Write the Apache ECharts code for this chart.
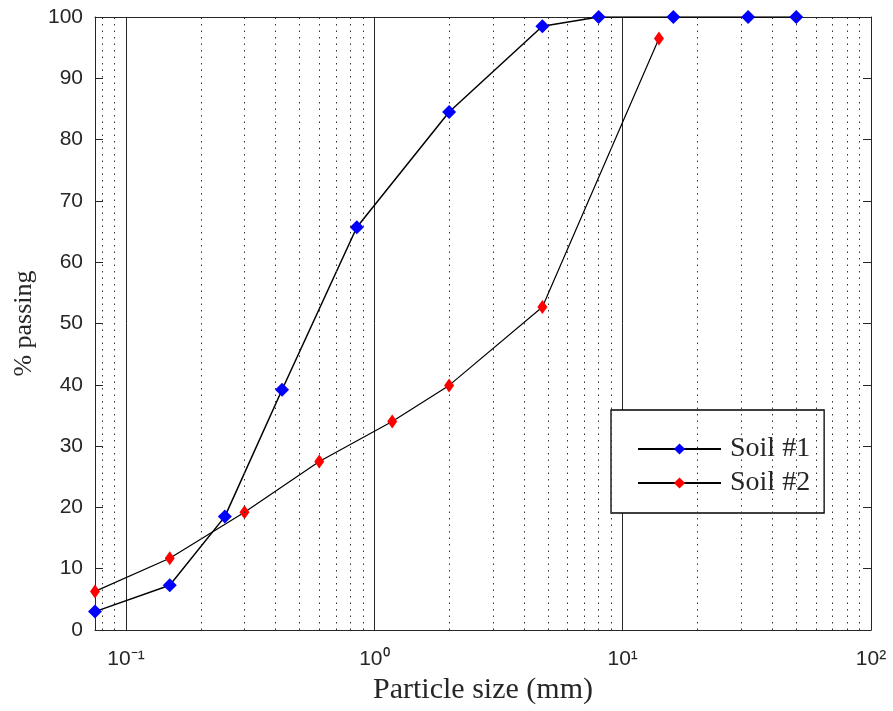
<!DOCTYPE html>
<html>
<head>
<meta charset="utf-8">
<script src="https://cdn.jsdelivr.net/npm/echarts@6/dist/echarts.min.js"></script>
<style>
html,body{margin:0;padding:0;background:#fff;}
#c{width:893px;height:711px;}
</style>
</head>
<body>
<div id="c"></div>
<script>
// ---- data ----
var soil1X = [0.075, 0.15, 0.25, 0.425, 0.85, 2, 4.75, 8, 16, 32, 50];
var soil1Y = [3.0, 7.3, 18.5, 39.2, 65.7, 84.5, 98.5, 100, 100, 100, 100];
var soil2X = [0.075, 0.15, 0.3, 0.6, 1.18, 2, 4.75, 14];
var soil2Y = [6.3, 11.7, 19.2, 27.5, 34.0, 39.9, 52.7, 96.5];
var minorGrid = [0.08, 0.09, 0.2, 0.3, 0.4, 0.5, 0.6, 0.7, 0.8, 0.9,
                 2, 3, 4, 5, 6, 7, 8, 9, 20, 30, 40, 50, 60, 70, 80, 90];
var yTicks = [0, 10, 20, 30, 40, 50, 60, 70, 80, 90, 100];
var xTickLabels = { '-1': '10\u207B\u00B9', '0': '10\u2070', '1': '10\u00B9', '2': '10\u00B2' };
var seriesNames = ['Soil #1', 'Soil #2'];

function pairs(xs, ys) { return xs.map(function (x, i) { return [x, ys[i]]; }); }

var txt = '#262626';
var chart = echarts.init(document.getElementById('c'));
chart.setOption({
  animation: false,
  backgroundColor: '#fff',
  grid: { left: 95, right: 22, top: 17, bottom: 81, containLabel: false },
  xAxis: [{
    type: 'log', logBase: 10, min: 0.075, max: 100,
    position: 'bottom',
    name: 'Particle size (mm)', nameLocation: 'middle', nameGap: 43,
    nameTextStyle: { fontFamily: 'Liberation Serif', fontSize: 30, color: txt },
    axisLine: { show: true, onZero: false, lineStyle: { color: txt, width: 1 } },
    axisTick: { show: true, inside: true, length: 8, lineStyle: { color: txt } },
    splitLine: { show: true, lineStyle: { color: '#262626', width: 1, type: 'solid' } },
    minorTick: { show: false },
    axisLabel: {
      margin: 19, fontFamily: 'Liberation Sans', fontSize: 21, color: txt,
      formatter: function (v) {
        var e = Math.log10(v);
        if (Math.abs(e - Math.round(e)) > 1e-6) return '';
        return xTickLabels[String(Math.round(e))] || '';
      }
    }
  }, {
    type: 'log', logBase: 10, min: 0.075, max: 100,
    position: 'top',
    axisLine: { show: true, onZero: false, lineStyle: { color: txt, width: 1 } },
    axisTick: { show: true, inside: true, length: 8, lineStyle: { color: txt } },
    axisLabel: { show: false },
    splitLine: { show: false }
  }],
  yAxis: [{
    type: 'value', min: 0, max: 100, interval: 10,
    name: '% passing', nameLocation: 'middle', nameGap: 57, nameRotate: 90,
    nameTextStyle: { fontFamily: 'Liberation Serif', fontSize: 26, color: txt },
    axisLine: { show: true, onZero: false, lineStyle: { color: txt, width: 1 } },
    axisTick: { show: true, inside: true, length: 8, lineStyle: { color: txt } },
    splitLine: { show: false },
    axisLabel: {
      margin: 12, fontFamily: 'Liberation Sans', fontSize: 21, color: txt,
      formatter: function (v) { return yTicks.indexOf(v) >= 0 ? String(v) : ''; }
    }
  }, {
    type: 'value', min: 0, max: 100, interval: 10, position: 'right',
    axisLine: { show: true, onZero: false, lineStyle: { color: txt, width: 1 } },
    axisTick: { show: true, inside: true, length: 8, lineStyle: { color: txt } },
    splitLine: { show: false },
    axisLabel: { show: false }
  }],
  legend: {
    orient: 'vertical', left: 611, top: 410,
    padding: [25, 14, 16, 26],
    itemWidth: 83, itemHeight: 14, itemGap: 6,
    borderColor: '#000', borderWidth: 1.3, backgroundColor: '#fff',
    textStyle: { fontFamily: 'Liberation Serif', fontSize: 28, color: txt, lineHeight: 26, padding: [0, 0, 0, 4] },
    data: seriesNames
  },
  series: [{
    name: 'grid-minor', type: 'line', data: [], silent: true, z: 1,
    markLine: {
      silent: true, symbol: ['none', 'none'], label: { show: false },
      lineStyle: { color: '#333', width: 1, type: [1.5, 5] },
      emphasis: { disabled: true },
      data: minorGrid.map(function (v) { return { xAxis: v }; })
    }
  }, {
    name: seriesNames[0], type: 'line', z: 3,
    data: pairs(soil1X, soil1Y),
    symbol: 'diamond', symbolSize: [14, 14],
    itemStyle: { color: '#0000ff' },
    lineStyle: { color: '#000', width: 1.5 }
  }, {
    name: seriesNames[1], type: 'line', z: 3,
    data: pairs(soil2X, soil2Y),
    symbol: 'diamond', symbolSize: [10, 14],
    itemStyle: { color: '#ff0000' },
    lineStyle: { color: '#000', width: 1.2 }
  }]
});
</script>
</body>
</html>
